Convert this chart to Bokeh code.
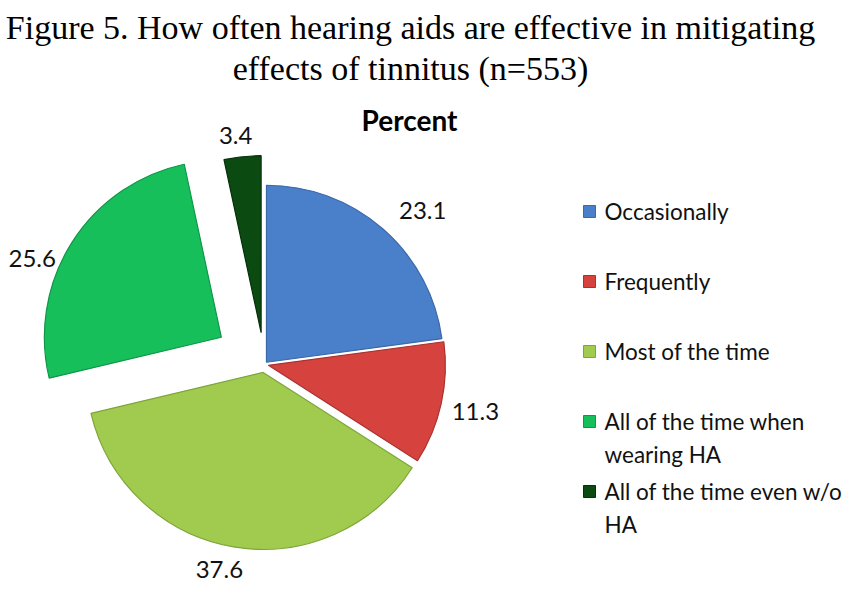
import math
import textwrap
from bokeh.plotting import figure
from bokeh.models import Range1d
from bokeh.core.properties import value
from bokeh.embed import file_html
from bokeh.resources import INLINE

# ---- data ----
categories = ["Occasionally", "Frequently", "Most of the time",
              "All of the time when wearing HA", "All of the time even w/o HA"]
percent = [23.1, 11.3, 37.6, 25.6, 3.4]
title_lines = ["Figure 5. How often hearing aids are effective in mitigating",
               "effects of tinnitus (n=553)"]
chart_title = "Percent"

# ---- style ----
colors = ["#4A7FCA", "#D6433F", "#A1CB4E", "#17BF5A", "#0B4A10"]
edges = ["#3B68A8", "#A8322F", "#7FA53A", "#10964A", "#06300A"]
explode = [3, 4, 8, 51, 32]          # px offset of each slice
label_dist = [218, 212, 202, 205, 199]
label_shift = [4.6, 0.0, 2.9, -9.6, -1.3]
W, H = 849, 587
cx, cy, R = 264, 223, 177

p = figure(width=W, height=H, output_backend="svg", toolbar_location=None,
           x_range=Range1d(0, W), y_range=Range1d(0, H), min_border=0)
p.axis.visible = False
p.grid.visible = False
p.outline_line_color = None
p.background_fill_color = "white"

total = sum(percent)
cum = 0.0
xs, ys, sa, ea, lx, ly, lt = [], [], [], [], [], [], []
for v, d, ld, sh in zip(percent, explode, label_dist, label_shift):
    t0 = cum / total * 360
    cum += v
    t1 = cum / total * 360
    tm = math.radians((t0 + t1) / 2)
    vx = cx + d * math.sin(tm)
    vy = cy + d * math.cos(tm)
    xs.append(vx); ys.append(vy)
    sa.append(math.radians(90 - t0)); ea.append(math.radians(90 - t1))
    tl = tm + math.radians(sh)
    lx.append(vx + ld * math.sin(tl)); ly.append(vy + ld * math.cos(tl))
    lt.append(f"{v:.1f}")

p.wedge(x=xs, y=ys, radius=R, start_angle=sa, end_angle=ea, direction="clock",
        fill_color=colors, line_color=edges, line_width=1.2)

p.text(x=lx, y=ly, text=lt, text_font=value("Lato"), text_font_size="24px",
       text_align="center", text_baseline="middle", text_color="#111111")

p.text(x=[409], y=[468], text=[chart_title], text_font=value("Lato"),
       text_font_size="28px", text_font_style="bold", text_align="center",
       text_baseline="middle", text_color="#000000")

p.text(x=[410, 410], y=[560, 519], text=title_lines,
       text_font=value("Liberation Serif"), text_font_size="34px",
       text_align="center", text_baseline="middle", text_color="#000000")

# legend
sx, sy, tx, tys, tts = [], [], [], [], []
for i, c in enumerate(categories):
    ry = 376 - 70 * i
    sx.append(589); sy.append(ry)
    for j, line in enumerate(textwrap.wrap(c, 24)):
        tx.append(604); tys.append(ry - 33 * j); tts.append(line)
p.rect(x=sx, y=sy, width=12, height=12, fill_color=colors, line_color=edges,
       line_width=1)
p.text(x=tx, y=tys, text=tts, text_font=value("Lato"), text_font_size="22.5px",
       text_align="left", text_baseline="middle", text_color="#111111")

open("out.html", "w").write(file_html(p, INLINE))
